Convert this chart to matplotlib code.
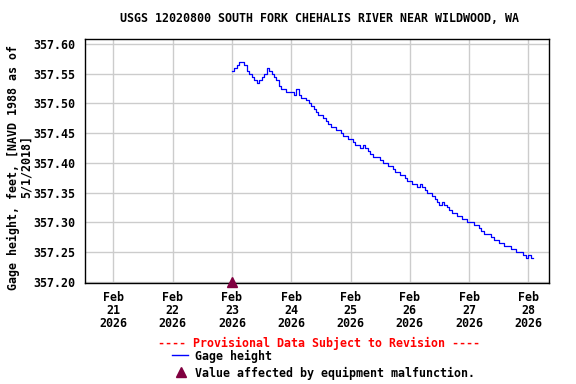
import numpy as np
import matplotlib
matplotlib.use("Agg")
import matplotlib.pyplot as plt
import matplotlib.dates as mdates
from matplotlib.lines import Line2D

title = "USGS 12020800 SOUTH FORK CHEHALIS RIVER NEAR WILDWOOD, WA"
ylabel = "Gage height, feet, [NAVD 1988 as of\n5/1/2018]"
start_time = np.datetime64("2026-02-23T00:00")
# hourly gage height (ft), starting Feb 23 00:00
gage_height = [
    357.555, 357.56, 357.565, 357.57, 357.57, 357.565, 357.555, 357.55, 357.545, 357.54,
    357.535, 357.54, 357.545, 357.55, 357.56, 357.555, 357.55, 357.545, 357.54, 357.53,
    357.525, 357.525, 357.52, 357.52, 357.52, 357.515, 357.525, 357.515, 357.51, 357.51,
    357.505, 357.50, 357.495, 357.49, 357.485, 357.48, 357.48, 357.475, 357.47, 357.465,
    357.46, 357.46, 357.455, 357.455, 357.45, 357.445, 357.445, 357.44, 357.44, 357.435,
    357.43, 357.43, 357.425, 357.43, 357.425, 357.42, 357.415, 357.41, 357.41, 357.41,
    357.405, 357.40, 357.40, 357.395, 357.395, 357.39, 357.385, 357.385, 357.38, 357.38,
    357.375, 357.37, 357.37, 357.365, 357.365, 357.36, 357.365, 357.36, 357.355, 357.35,
    357.35, 357.345, 357.34, 357.335, 357.33, 357.335, 357.33, 357.325, 357.32, 357.315,
    357.315, 357.31, 357.31, 357.305, 357.305, 357.30, 357.30, 357.30, 357.295, 357.295,
    357.29, 357.285, 357.28, 357.28, 357.28, 357.275, 357.27, 357.27, 357.265, 357.265,
    357.26, 357.26, 357.26, 357.255, 357.255, 357.25, 357.25, 357.25, 357.245, 357.24,
    357.245, 357.24, 357.24,
]
malfunction_time = [np.datetime64("2026-02-23T00:00")]
malfunction_value = [357.20]
xtick_dates = ["2026-02-21", "2026-02-22", "2026-02-23", "2026-02-24",
               "2026-02-25", "2026-02-26", "2026-02-27", "2026-02-28"]
xtick_labels = ["Feb\n21\n2026", "Feb\n22\n2026", "Feb\n23\n2026", "Feb\n24\n2026",
                "Feb\n25\n2026", "Feb\n26\n2026", "Feb\n27\n2026", "Feb\n28\n2026"]
ytick_values = [357.20, 357.25, 357.30, 357.35, 357.40, 357.45, 357.50, 357.55, 357.60]

FONT = "DejaVu Sans Mono"
FS = 8.4
plt.rcParams["font.family"] = FONT
plt.rcParams["font.weight"] = "bold"

times = start_time + np.arange(len(gage_height)) * np.timedelta64(60, "m")

fig = plt.figure(figsize=(5.76, 3.84), dpi=100)
ax = fig.add_axes([85/576, 1-283/384, (549-85)/576, (283-39)/384])

ax.plot(times.astype("datetime64[m]").astype(object), gage_height, color="#0000ff",
        linewidth=0.9, drawstyle="steps-post", zorder=3)
ax.plot(np.array(malfunction_time).astype("datetime64[m]").astype(object), malfunction_value,
        marker="^", color="#800040", markersize=7, linestyle="none", clip_on=False, zorder=4)

xmin = mdates.date2num(np.datetime64("2026-02-20T12:30"))
xmax = mdates.date2num(np.datetime64("2026-02-28T08:20"))
ax.set_xlim(xmin, xmax)
ax.set_ylim(357.198, 357.6084)

ax.set_xticks([mdates.date2num(np.datetime64(d)) for d in xtick_dates])
ax.set_xticklabels(xtick_labels, fontsize=FS, fontweight="bold", linespacing=1.0)
ax.set_yticks(ytick_values)
ax.set_yticklabels([f"{v:.2f}" for v in ytick_values], fontsize=FS, fontweight="bold")
ax.tick_params(axis="x", length=0, pad=6)
ax.tick_params(axis="y", length=0, pad=7)
ax.grid(True, color="#cccccc", linewidth=1.0, zorder=0)
for s in ax.spines.values():
    s.set_color("black")
    s.set_linewidth(1.0)

fig.text(20/576, 1-167/384, ylabel, rotation=90, ha="center", va="center", multialignment="center",
         fontsize=FS, fontweight="bold", linespacing=1.0)
fig.text(319/576, 1-19/384, title, ha="center", va="center", fontsize=FS, fontweight="bold")

fig.text(319/576, 1-343/384, "---- Provisional Data Subject to Revision ----",
         ha="center", va="center", fontsize=FS, fontweight="bold", color="#ff0000")
fig.add_artist(Line2D([172/576, 188/576], [1-355/384, 1-355/384], color="#0000ff", linewidth=1.0))
fig.text(195/576, 1-356/384, "Gage height", ha="left", va="center", fontsize=FS, fontweight="bold")
fig.add_artist(Line2D([181/576], [1-372/384], marker="^", color="#800040", markersize=7, linestyle="none"))
fig.text(195/576, 1-373/384, "Value affected by equipment malfunction.", ha="left", va="center",
         fontsize=FS, fontweight="bold")

fig.savefig("out.png", dpi=100)
